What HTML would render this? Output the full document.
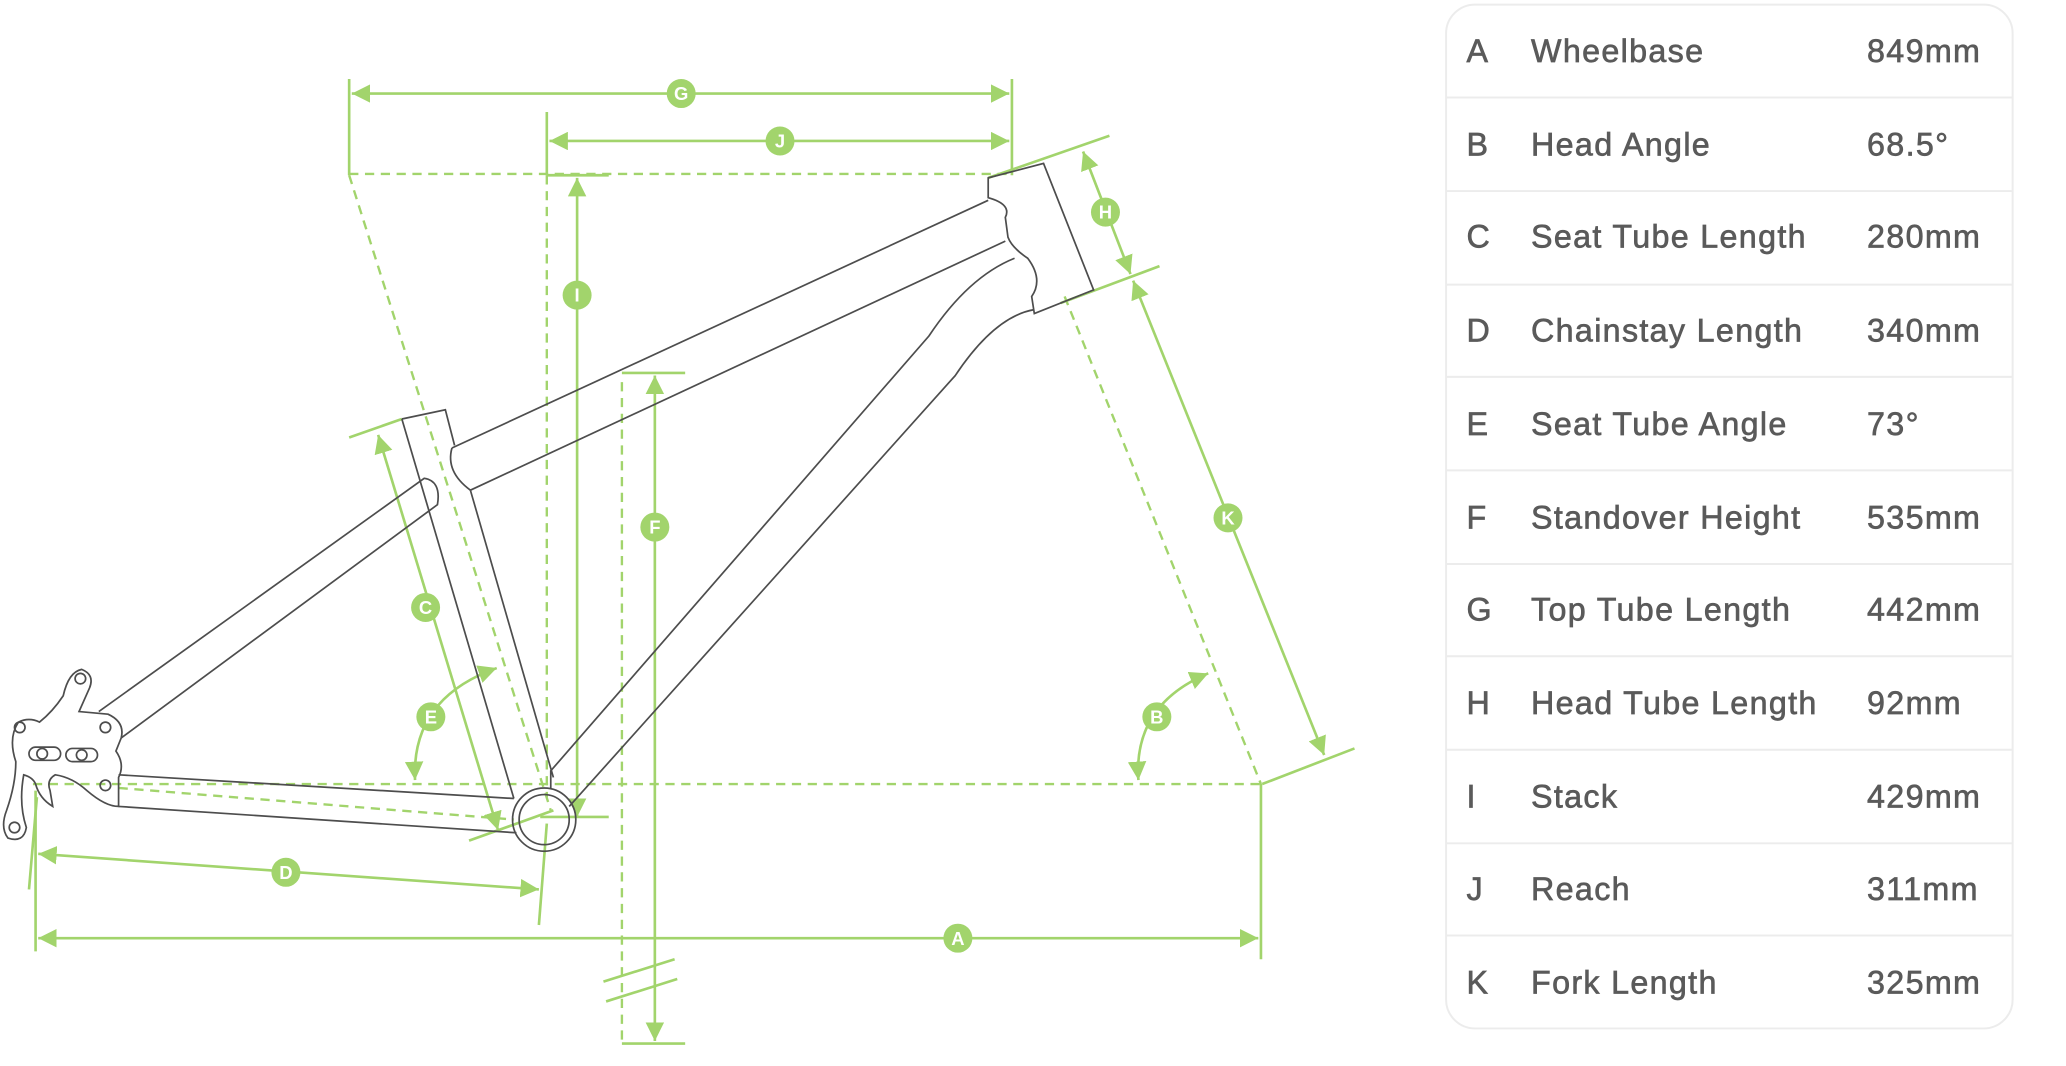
<!DOCTYPE html>
<html><head><meta charset="utf-8"><style>
html,body{margin:0;padding:0;background:#fff;width:2066px;height:1066px;overflow:hidden}
svg{display:block}
.g{stroke:#a2d46c;fill:none;stroke-width:2}
.gd{stroke:#a2d46c;fill:none;stroke-width:1.8;stroke-dasharray:7 5}
.f{stroke:#4d4d4d;fill:none;stroke-width:1.3}
.lbl circle{fill:#a2d46c}
.lbl text{fill:#fff;font:bold 14px "Liberation Sans",sans-serif;text-anchor:middle}
.t{font-family:"Liberation Sans",sans-serif;font-size:24.5px;fill:#5a5a5a;stroke:#5a5a5a;stroke-width:0.5;letter-spacing:1px}
</style></head><body>
<svg width="2066" height="1066" viewBox="0 0 1568 809" preserveAspectRatio="none" xmlns="http://www.w3.org/2000/svg">
<defs>
<marker id="b" viewBox="0 0 10 10" refX="10" refY="5" markerWidth="14" markerHeight="14" orient="auto-start-reverse" markerUnits="userSpaceOnUse"><path d="M0,0 L10,5 L0,10z" fill="#a2d46c"/></marker>
</defs>

<line class="gd" x1="265" y1="132" x2="768" y2="132"/>
<line class="gd" x1="265" y1="133" x2="418" y2="615"/>
<line class="gd" x1="415" y1="133" x2="415" y2="605"/>
<line class="gd" x1="472" y1="290" x2="472" y2="790"/>
<line class="gd" x1="25" y1="595" x2="957" y2="595"/>
<line class="gd" x1="808" y1="225" x2="957" y2="595"/>
<line class="gd" x1="90" y1="598" x2="390" y2="622"/>

<line class="g" x1="265" y1="60" x2="265" y2="133"/>
<line class="g" x1="768" y1="60" x2="768" y2="133"/>
<line class="g" x1="267" y1="71" x2="766" y2="71" marker-start="url(#b)" marker-end="url(#b)"/>
<line class="g" x1="415" y1="85" x2="415" y2="133"/>
<line class="g" x1="417" y1="107" x2="766" y2="107" marker-start="url(#b)" marker-end="url(#b)"/>
<line class="g" x1="415" y1="133" x2="462" y2="133"/>
<line class="g" x1="438" y1="135" x2="438" y2="620" marker-start="url(#b)" marker-end="url(#b)"/>
<line class="g" x1="472" y1="283" x2="520" y2="283"/>
<line class="g" x1="472" y1="792" x2="520" y2="792"/>
<line class="g" x1="497" y1="285" x2="497" y2="790" marker-start="url(#b)" marker-end="url(#b)"/>
<line class="g" x1="458" y1="745" x2="512" y2="728" stroke-width="1.5"/>
<line class="g" x1="460" y1="760" x2="514" y2="743" stroke-width="1.5"/>
<line class="g" x1="750" y1="135" x2="842" y2="103"/>
<line class="g" x1="805" y1="230" x2="880" y2="202"/>
<line class="g" x1="822" y1="115" x2="858" y2="208" marker-start="url(#b)" marker-end="url(#b)"/>
<line class="g" x1="958" y1="595" x2="1028" y2="568"/>
<line class="g" x1="860" y1="213" x2="1005" y2="573" marker-start="url(#b)" marker-end="url(#b)"/>
<line class="g" x1="27" y1="600" x2="27" y2="722"/>
<line class="g" x1="957" y1="595" x2="957" y2="728"/>
<line class="g" x1="29" y1="712" x2="955" y2="712" marker-start="url(#b)" marker-end="url(#b)"/>
<line class="g" x1="22" y1="675" x2="28" y2="605"/>
<line class="g" x1="415" y1="625" x2="409" y2="702"/>
<line class="g" x1="29" y1="648" x2="409" y2="675" marker-start="url(#b)" marker-end="url(#b)"/>
<line class="g" x1="265" y1="332" x2="305" y2="318"/>
<line class="g" x1="356" y1="638" x2="420" y2="615"/>
<line class="g" x1="287" y1="330" x2="378" y2="630" marker-start="url(#b)" marker-end="url(#b)"/>
<line class="g" x1="410" y1="620" x2="462" y2="620"/>
<path class="g" d="M315,592 Q312,530 377,507" marker-start="url(#b)" marker-end="url(#b)"/>
<path class="g" d="M864,592 Q860,535 917,511" marker-start="url(#b)" marker-end="url(#b)"/>

<g class="f">
<path d="M343,340 L750,152"/>
<path d="M357,372 L763,183"/>
<path d="M343,340 Q338,358 357,372"/>
<path d="M750,135 L792,124 L830,220 L785,238 L783,225 Q792,212 780,196 Q768,188 765,180 L763,165 Q768,155 750,150 Z"/>
<path d="M770,196 Q735,210 705,255 L418,585 L418,598"/>
<path d="M785,235 Q755,240 725,285 L432,612"/>
<path d="M305,318 L338,311 L345,338"/>
<path d="M305,318 L390,606"/>
<path d="M357,372 L420,590"/>
<path d="M75,540 L322,363 Q335,365 332,383 L92,560"/>
<path d="M90,588 L390,606"/>
<path d="M90,612 L392,632"/>
<circle cx="413" cy="622" r="24"/>
<circle cx="413" cy="622" r="19"/>
<path d="M48,528 Q52,510 62,508 Q72,512 68,522 L60,540 L82,542 Q95,548 92,560 L88,570 Q95,580 90,590 L90,612 Q80,612 66,600 Q55,590 42,588 Q35,592 38,600 L40,612 Q30,606 27,595 Q25,590 18,588 Q14,610 20,628 Q18,640 6,636 Q0,628 5,615 Q12,595 12,578 Q6,560 14,548 Q22,544 30,548 Q40,540 48,528 Z"/>
<circle cx="61" cy="515" r="4"/>
<circle cx="15" cy="552" r="4"/>
<circle cx="80" cy="552" r="4"/>
<circle cx="80" cy="596" r="4"/>
<circle cx="11" cy="628" r="4"/>
<rect x="22" y="567" width="24" height="10" rx="5"/>
<rect x="50" y="568" width="24" height="10" rx="5"/>
<circle cx="32" cy="572" r="4"/><circle cx="62" cy="573" r="4"/>
</g>

<g class="lbl">
<circle cx="517" cy="71" r="11"/><text x="517" y="76">G</text>
<circle cx="592" cy="107" r="11"/><text x="592" y="112">J</text>
<circle cx="438" cy="224" r="11"/><text x="438" y="229">I</text>
<circle cx="497" cy="400" r="11"/><text x="497" y="405">F</text>
<circle cx="839" cy="161" r="11"/><text x="839" y="166">H</text>
<circle cx="932" cy="393" r="11"/><text x="932" y="398">K</text>
<circle cx="727" cy="712" r="11"/><text x="727" y="717">A</text>
<circle cx="217" cy="662" r="11"/><text x="217" y="667">D</text>
<circle cx="323" cy="461" r="11"/><text x="323" y="466">C</text>
<circle cx="327" cy="544" r="11"/><text x="327" y="549">E</text>
<circle cx="878" cy="544" r="11"/><text x="878" y="549">B</text>
</g>

<rect x="1097.5" y="3.5" width="430" height="777" rx="22" fill="#fff" stroke="#ececec" stroke-width="1.5"/>
<g stroke="#ececec" stroke-width="1.5">
<line x1="1098" y1="74" x2="1527" y2="74"/>
<line x1="1098" y1="145" x2="1527" y2="145"/>
<line x1="1098" y1="216" x2="1527" y2="216"/>
<line x1="1098" y1="286" x2="1527" y2="286"/>
<line x1="1098" y1="357" x2="1527" y2="357"/>
<line x1="1098" y1="428" x2="1527" y2="428"/>
<line x1="1098" y1="498" x2="1527" y2="498"/>
<line x1="1098" y1="569" x2="1527" y2="569"/>
<line x1="1098" y1="640" x2="1527" y2="640"/>
<line x1="1098" y1="710" x2="1527" y2="710"/>
</g>
<g class="t">
<text x="1113" y="47">A</text><text x="1162" y="47">Wheelbase</text><text x="1417" y="47">849mm</text>
<text x="1113" y="118">B</text><text x="1162" y="118">Head Angle</text><text x="1417" y="118">68.5°</text>
<text x="1113" y="188">C</text><text x="1162" y="188">Seat Tube Length</text><text x="1417" y="188">280mm</text>
<text x="1113" y="259">D</text><text x="1162" y="259">Chainstay Length</text><text x="1417" y="259">340mm</text>
<text x="1113" y="330">E</text><text x="1162" y="330">Seat Tube Angle</text><text x="1417" y="330">73°</text>
<text x="1113" y="401">F</text><text x="1162" y="401">Standover Height</text><text x="1417" y="401">535mm</text>
<text x="1113" y="471">G</text><text x="1162" y="471">Top Tube Length</text><text x="1417" y="471">442mm</text>
<text x="1113" y="542">H</text><text x="1162" y="542">Head Tube Length</text><text x="1417" y="542">92mm</text>
<text x="1113" y="613">I</text><text x="1162" y="613">Stack</text><text x="1417" y="613">429mm</text>
<text x="1113" y="683">J</text><text x="1162" y="683">Reach</text><text x="1417" y="683">311mm</text>
<text x="1113" y="754">K</text><text x="1162" y="754">Fork Length</text><text x="1417" y="754">325mm</text>
</g>
</svg>
</body></html>
